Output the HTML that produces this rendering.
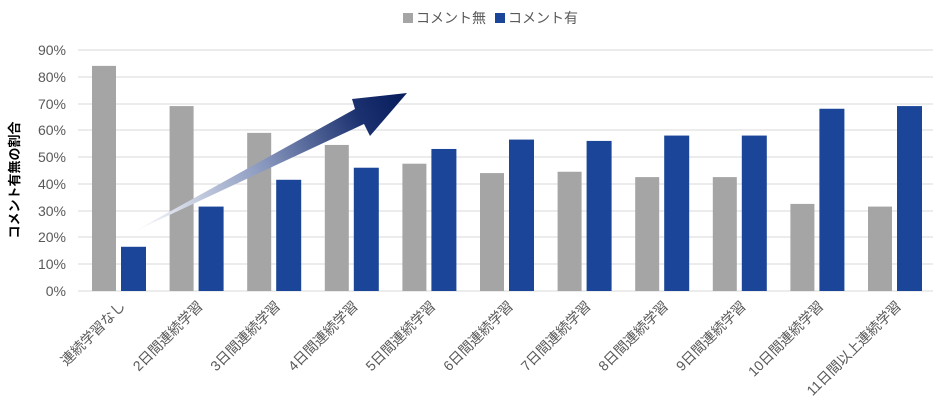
<!DOCTYPE html>
<html><head><meta charset="utf-8"><style>body{margin:0;background:#fff}svg{display:block}text{font-family:"Liberation Sans","Noto Sans CJK JP",sans-serif}</style></head><body>
<svg width="944" height="418" xmlns="http://www.w3.org/2000/svg">
<defs><linearGradient id="g" x1="133" y1="232" x2="400" y2="100" gradientUnits="userSpaceOnUse"><stop offset="0" stop-color="#fff"/><stop offset="0.5" stop-color="#8796bd"/><stop offset="0.85" stop-color="#1c3270"/><stop offset="1" stop-color="#0a1f5e"/></linearGradient></defs>
<g stroke="#d9d9d9" stroke-width="1">
<line x1="78" x2="933" y1="50" y2="50"/><line x1="78" x2="933" y1="77" y2="77"/><line x1="78" x2="933" y1="104" y2="104"/><line x1="78" x2="933" y1="130" y2="130"/><line x1="78" x2="933" y1="157" y2="157"/><line x1="78" x2="933" y1="184" y2="184"/><line x1="78" x2="933" y1="211" y2="211"/><line x1="78" x2="933" y1="237" y2="237"/><line x1="78" x2="933" y1="264" y2="264"/><line x1="78" x2="933" y1="291" y2="291"/>
</g>
<g fill="#595959" font-size="14" text-anchor="end">
<text x="66" y="55">90%</text><text x="66" y="82">80%</text><text x="66" y="109">70%</text><text x="66" y="135">60%</text><text x="66" y="162">50%</text><text x="66" y="189">40%</text><text x="66" y="216">30%</text><text x="66" y="242">20%</text><text x="66" y="269">10%</text><text x="66" y="296">0%</text>
</g>
<text transform="translate(19,180) rotate(-90)" font-size="13" font-weight="bold" text-anchor="middle" fill="#000">コメント有無の割合</text>
<rect x="403" y="13" width="10" height="10" fill="#a5a5a5"/><text x="416" y="23" font-size="14" fill="#595959">コメント無</text>
<rect x="495" y="13" width="10" height="10" fill="#1a4599"/><text x="508" y="23" font-size="14" fill="#595959">コメント有</text>
<g id="bars"></g>
<g id="labels" fill="#595959" font-size="14" text-anchor="end"></g>
<polygon points="133,232 355,109 352,99 407,93 370,136 364,124" fill="url(#g)"/>
<script>
var gr=[84,69,59,54.5,47.5,44,44.5,42.5,42.5,32.5,31.5],bl=[16.5,31.5,41.5,46,53,56.5,56,58,58,68,69];
var L=["連続学習なし","2日間連続学習","3日間連続学習","4日間連続学習","5日間連続学習","6日間連続学習","7日間連続学習","8日間連続学習","9日間連続学習","10日間連続学習","11日間以上連続学習"];
var b=document.getElementById('bars'),l=document.getElementById('labels'),ns="http://www.w3.org/2000/svg";
for(var i=0;i<11;i++){var x=92+77.6*i;
[[x,24,gr[i],"#a5a5a5"],[x+29,25,bl[i],"#1a4599"]].forEach(function(a){var r=document.createElementNS(ns,'rect');var h=a[2]*2.68;r.setAttribute('x',a[0]);r.setAttribute('width',a[1]);r.setAttribute('y',291-h);r.setAttribute('height',h);r.setAttribute('fill',a[3]);b.appendChild(r);});
var t=document.createElementNS(ns,'text');var cx=x+29+5;t.setAttribute('transform','translate('+cx+',307) rotate(-45)');t.textContent=L[i];l.appendChild(t);}
</script>
</svg></body></html>
